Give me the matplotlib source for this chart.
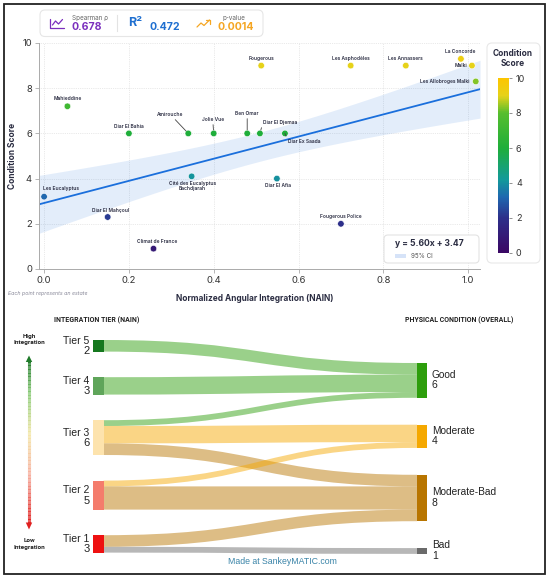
import numpy as np
import matplotlib
matplotlib.use("Agg")
import matplotlib.pyplot as plt
from matplotlib.colors import LinearSegmentedColormap
from matplotlib.patches import FancyBboxPatch, Rectangle, PathPatch, Polygon
from matplotlib.path import Path
from matplotlib.collections import LineCollection

plt.rcParams['font.family'] = ['Inter', 'DejaVu Sans']

# ---------------- data: scatter ----------------
estates = ["Les Eucalyptus", "Diar El Mahçoul", "Climat de France",
           "Cité des Eucalyptus\nBachdjarah", "Diar El Afia", "Fougerous Police",
           "Mahieddine", "Diar El Bahia", "Amirouche", "Jolie Vue", "Ben Omar",
           "Diar El Djemaa", "Diar Ex Saada", "Fougerous", "Les Asphodèles",
           "Les Annassers", "La Concorde", "Malki", "Les Allobroges Malki"]
nain = [0.00, 0.15, 0.258, 0.348, 0.549, 0.70, 0.055, 0.20, 0.34, 0.40, 0.479,
        0.509, 0.568, 0.512, 0.723, 0.853, 0.983, 1.009, 1.018]
condition = [3.2, 2.3, 0.9, 4.1, 4.0, 2.0, 7.2, 6.0, 6.0, 6.0, 6.0,
             6.0, 6.0, 9.0, 9.0, 9.0, 9.3, 9.0, 8.3]
x_ticks = [0.0, 0.2, 0.4, 0.6, 0.8, 1.0]
y_ticks = [0, 2, 4, 6, 8, 10]
cbar_ticks = [0, 2, 4, 6, 8, 10]
fit_slope = 4.9
fit_intercept = 2.92
ci_scale = 2.82
stat_names = ["Spearman ρ", "R²", "p-value"]
stat_values = ["0.678", "0.472", "0.0014"]
equation_text = "y = 5.60x + 3.47"

# ---------------- data: sankey ----------------
tiers = ["Tier 5", "Tier 4", "Tier 3", "Tier 2", "Tier 1"]
conditions = ["Good", "Moderate", "Moderate-Bad", "Bad"]
flow_src = ["Tier 5", "Tier 4", "Tier 3", "Tier 3", "Tier 3", "Tier 2", "Tier 2", "Tier 1", "Tier 1"]
flow_dst = ["Good", "Good", "Good", "Moderate", "Moderate-Bad", "Moderate", "Moderate-Bad", "Moderate-Bad", "Bad"]
flow_val = [2, 3, 1, 3, 2, 1, 4, 2, 1]

# ---------------- styles ----------------
cmap = LinearSegmentedColormap.from_list("cond", [
    (0.0, "#3b0764"), (0.2, "#2d2f8a"), (0.32, "#1f68b0"), (0.42, "#139a9a"),
    (0.6, "#1fae3a"), (0.8, "#56be2e"), (0.9, "#e6d21a"), (1.0, "#fdc500")])
tier_colors = {"Tier 5": "#15781e", "Tier 4": "#5fa55a", "Tier 3": "#fde3ad",
               "Tier 2": "#f47c6c", "Tier 1": "#ee1111"}
cond_colors = {"Good": "#2d9e0c", "Moderate": "#f5a800", "Moderate-Bad": "#b87500", "Bad": "#6a6a6a"}
label_offsets = {  # pixel offsets (dx, dy up), ha, va, leader
    "Les Eucalyptus": (17, 8, "center", "center", False),
    "Diar El Mahçoul": (3, 7, "center", "center", False),
    "Climat de France": (4, 7, "center", "center", False),
    "Cité des Eucalyptus\nBachdjarah": (1, -10, "center", "center", False),
    "Diar El Afia": (1, -7, "center", "center", False),
    "Fougerous Police": (0, 7, "center", "center", False),
    "Mahieddine": (0, 8, "center", "center", False),
    "Diar El Bahia": (0, 7, "center", "center", False),
    "Amirouche": (-18, 19, "center", "center", True),
    "Jolie Vue": (-1, 14, "center", "center", True),
    "Ben Omar": (0, 20, "center", "center", True),
    "Diar El Djemaa": (3, 11, "left", "center", True),
    "Diar Ex Saada": (3, -8, "left", "center", True),
    "Fougerous": (0, 7, "center", "center", False),
    "Les Asphodèles": (0, 7, "center", "center", False),
    "Les Annassers": (0, 7, "center", "center", False),
    "La Concorde": (-1, 7, "center", "center", False),
    "Malki": (-5, 0, "right", "center", False),
    "Les Allobroges Malki": (-6, 0, "right", "center", False),
}
DARK = "#2b2d42"

W, H = 550, 578
fig = plt.figure(figsize=(W / 100, H / 100), dpi=100)
fig.patch.set_facecolor("white")

bg = fig.add_axes([0, 0, 1, 1])
bg.set_xlim(0, W); bg.set_ylim(H, 0); bg.axis("off"); bg.set_zorder(0)

# ---------------- scatter ----------------
L, R, T, B = 39, 480, 43, 269
ax = fig.add_axes([L / W, 1 - B / H, (R - L) / W, (B - T) / H])
ax.set_zorder(2)
ax.patch.set_alpha(0)
x0lim, x1lim = -0.012, 1.028
ax.set_xlim(x0lim, x1lim); ax.set_ylim(0, 10)

xa = np.array(nain); ya = np.array(condition)
xs = np.linspace(x0lim, x1lim, 200)
ys = fit_intercept + fit_slope * xs
xm = xa.mean(); sxx = ((xa - xm) ** 2).sum()
half = ci_scale * np.sqrt(1 / len(xa) + (xs - xm) ** 2 / sxx)
ax.fill_between(xs, ys - half, ys + half, color="#1a6fdc", alpha=0.12, lw=0, zorder=1)
ax.plot(xs, ys, color="#1a6fdc", lw=1.3, zorder=2)

sc = ax.scatter(xa, ya, c=ya, cmap=cmap, vmin=0, vmax=10, s=22,
                edgecolors="white", linewidths=0.4, zorder=4)

for name, x, y in zip(estates, nain, condition):
    dx, dy, ha, va, leader = label_offsets[name]
    kw = {}
    if leader:
        kw["arrowprops"] = dict(arrowstyle="-", color="#444444", lw=0.6,
                                shrinkA=0, shrinkB=2.5,
                                relpos=(0, 0.5) if ha == "left" else (0.5, 0.5))
    ax.annotate(name, (x, y), xytext=(dx, dy), textcoords="offset pixels",
                ha=ha, va=va, fontsize=3.5, fontweight="semibold", color=DARK,
                linespacing=1.0, zorder=5, **kw)

ax.set_xticks(x_ticks); ax.set_yticks(y_ticks)
ax.set_xticklabels([f"{t:.1f}" for t in x_ticks])
ax.tick_params(labelsize=6.8, colors="#333333", length=3, width=0.5, pad=2)
ax.tick_params(axis="both", color="#999999")
for s in ["top", "right"]:
    ax.spines[s].set_visible(False)
for s in ["left", "bottom"]:
    ax.spines[s].set_color("#aaaaaa"); ax.spines[s].set_linewidth(0.7)
ax.grid(True, ls=":", lw=0.5, color="#d5d5d5")
ax.set_axisbelow(True)
ax.set_xlabel("Normalized Angular Integration (NAIN)", fontsize=6, fontweight="bold", color=DARK)
ax.xaxis.set_label_coords((255 - L) / (R - L), (B - 294) / (B - T))
ax.set_ylabel("Condition Score", fontsize=6, fontweight="bold", color=DARK)
ax.yaxis.set_label_coords((17 - L) / (R - L), 0.5)

# colorbar panel
bg.add_patch(FancyBboxPatch((487, 43), 53, 220, boxstyle="round,pad=0,rounding_size=5",
                            fc="white", ec="#e8e8e8", lw=0.8))
bg.text(513, 58.5, "Condition\nScore", ha="center", va="center", fontsize=6,
        fontweight="bold", color=DARK, linespacing=1.2)
cax = fig.add_axes([498 / W, 1 - 253 / H, 11 / W, 175 / H])
cax.set_zorder(2)
cb = fig.colorbar(sc, cax=cax, ticks=cbar_ticks)
cb.outline.set_visible(False)
cax.tick_params(labelsize=6.5, length=2, width=0.5, color="#666666", labelcolor="#333333", pad=3)

# stats box
bg.add_patch(FancyBboxPatch((40, 10), 223, 26.5, boxstyle="round,pad=0,rounding_size=5",
                            fc="white", ec="#e6e6e6", lw=0.8))
purple, blue, orange = "#7b2fbe", "#1f6fd0", "#f5a623"
bg.plot([50, 50, 63.5], [18.5, 27.5, 27.5], color=purple, lw=0.9, solid_capstyle="round")
bg.plot([52.5, 55.5, 58.5, 62.5], [25, 21, 24, 19.5], color=purple, lw=0.9, solid_capstyle="round")
bg.text(72, 18, stat_names[0], ha="left", va="center", fontsize=4.6, color="#666666")
bg.text(72, 27.5, stat_values[0], ha="left", va="center", fontsize=7.6, fontweight="bold", color=purple)
bg.plot([117, 117], [15, 31], color="#e3e3e3", lw=0.8)
bg.text(128, 23, stat_names[1], ha="left", va="center", fontsize=9, fontweight="bold", color=blue)
bg.text(150, 27.5, stat_values[1], ha="left", va="center", fontsize=7.6, fontweight="bold", color=blue)
bg.plot([197, 201, 204, 209.5], [27, 23, 25.5, 20], color=orange, lw=0.9, solid_capstyle="round")
bg.plot([206, 209.5, 209.5], [20, 20, 23.5], color=orange, lw=0.9, solid_capstyle="round")
bg.text(234, 18, stat_names[2], ha="center", va="center", fontsize=4.6, color="#666666")
bg.text(218, 27.5, stat_values[2], ha="left", va="center", fontsize=7.6, fontweight="bold", color=orange)

bg.text(8, 293, "Each point represents an estate", ha="left", va="center", fontsize=3.8,
        style="italic", color="#8a8a9a")

# equation box (on top of scatter)
fg = fig.add_axes([0, 0, 1, 1])
fg.set_xlim(0, W); fg.set_ylim(H, 0); fg.axis("off"); fg.set_zorder(5)
fg.patch.set_alpha(0)
fg.add_patch(FancyBboxPatch((384, 235), 95, 28, boxstyle="round,pad=0,rounding_size=4",
                            fc="white", ec="#e3e3e3", lw=0.8))
fg.text(395, 244, equation_text, ha="left", va="center", fontsize=6.2, fontweight="bold", color=DARK)
fg.add_patch(Rectangle((395, 253.5), 11, 4.5, fc="#d6e3f8", ec="none"))
fg.text(411, 256, "95% CI", ha="left", va="center", fontsize=4.5, color="#555555")

# ---------------- sankey ----------------
SF = ["Liberation Sans", "DejaVu Sans"]
u = 5.8
left_top, left_gap = 340, 25.6
right_top, right_gap = 363, 26.9
xl0, xl1 = 93, 103.5
xr0, xr1 = 417, 427

tier_tot = {t: sum(v for s, v in zip(flow_src, flow_val) if s == t) for t in tiers}
cond_tot = {c: sum(v for d, v in zip(flow_dst, flow_val) if d == c) for c in conditions}
tier_y, y = {}, left_top
for t in tiers:
    tier_y[t] = y; y += tier_tot[t] * u + left_gap
cond_y, y = {}, right_top
for c in conditions:
    cond_y[c] = y; y += cond_tot[c] * u + right_gap

order_left = sorted(range(len(flow_val)), key=lambda i: (tiers.index(flow_src[i]), conditions.index(flow_dst[i])))
order_right = sorted(range(len(flow_val)), key=lambda i: (conditions.index(flow_dst[i]), tiers.index(flow_src[i])))
lpos, rpos = {}, {}
off = {t: tier_y[t] for t in tiers}
for i in order_left:
    lpos[i] = off[flow_src[i]]; off[flow_src[i]] += flow_val[i] * u
off = {c: cond_y[c] for c in conditions}
for i in order_right:
    rpos[i] = off[flow_dst[i]]; off[flow_dst[i]] += flow_val[i] * u

xmid = (xl1 + xr0) / 2
for i in range(len(flow_val)):
    h = flow_val[i] * u
    a0, b0 = lpos[i], lpos[i] + h
    a1, b1 = rpos[i], rpos[i] + h
    verts = [(xl1, a0), (xmid, a0), (xmid, a1), (xr0, a1), (xr0, b1),
             (xmid, b1), (xmid, b0), (xl1, b0), (xl1, a0)]
    codes = [Path.MOVETO, Path.CURVE4, Path.CURVE4, Path.CURVE4, Path.LINETO,
             Path.CURVE4, Path.CURVE4, Path.CURVE4, Path.CLOSEPOLY]
    bg.add_patch(PathPatch(Path(verts, codes), fc=cond_colors[flow_dst[i]], ec="none", alpha=0.48))

for t in tiers:
    h = tier_tot[t] * u
    bg.add_patch(Rectangle((xl0, tier_y[t]), xl1 - xl0, h, fc=tier_colors[t], ec="none", zorder=3))
    cy = tier_y[t] + h / 2
    bg.text(89.5, cy - 5, t, ha="right", va="center", fontsize=7.5, color="#222222", family=SF)
    bg.text(89.5, cy + 5.5, str(tier_tot[t]), ha="right", va="center", fontsize=8, color="#222222", family=SF)
for c in conditions:
    h = cond_tot[c] * u
    bg.add_patch(Rectangle((xr0, cond_y[c]), xr1 - xr0, h, fc=cond_colors[c], ec="none", zorder=3))
    cy = cond_y[c] + h / 2
    bg.text(432, cy - 5.5, c, ha="left", va="center", fontsize=7.3, color="#222222", family=SF)
    bg.text(432, cy + 5, str(cond_tot[c]), ha="left", va="center", fontsize=7.5, color="#222222", family=SF)

bg.text(97, 320, "INTEGRATION TIER (NAIN)", ha="center", va="center", fontsize=5,
        fontweight="bold", color="#222222", family=["Roboto", "DejaVu Sans"])
bg.text(459, 320, "PHYSICAL CONDITION (OVERALL)", ha="center", va="center", fontsize=5,
        fontweight="bold", color="#222222", family=["Roboto", "DejaVu Sans"])
bg.text(29, 339.5, "High\nIntegration", ha="center", va="center", fontsize=4.6,
        fontweight="bold", color="#222222", family=["Roboto", "DejaVu Sans"], linespacing=1.3)
bg.text(29, 544, "Low\nIntegration", ha="center", va="center", fontsize=4.6,
        fontweight="bold", color="#222222", family=["Roboto", "DejaVu Sans"], linespacing=1.3)

# gradient arrow
acmap = LinearSegmentedColormap.from_list("arr", [
    (0.0, "#1f7a2a"), (0.2, "#8ccc7a"), (0.45, "#f5e8aa"), (0.7, "#f7b0a0"), (1.0, "#e02020")])
ya_ = np.linspace(360, 524, 120)
segs = [[(29, ya_[k]), (29, ya_[k + 1])] for k in range(len(ya_) - 1)]
lc = LineCollection(segs, colors=acmap(np.linspace(0, 1, len(segs))), linewidths=2.2)
bg.add_collection(lc)
bg.add_patch(Polygon([(25.8, 362), (32.2, 362), (29, 355.5)], closed=True, fc="#1f7a2a", ec="none"))
bg.add_patch(Polygon([(25.8, 522.5), (32.2, 522.5), (29, 529.5)], closed=True, fc="#e02020", ec="none"))

bg.text(282, 561, "Made at SankeyMATIC.com", ha="center", va="center", fontsize=6.3,
        color="#3a84a8", family=SF)

# outer frame
bg.add_patch(Rectangle((4, 4), 541, 570, fill=False, ec="#222222", lw=1.3))

fig.savefig("out.png", dpi=100, facecolor="white")
